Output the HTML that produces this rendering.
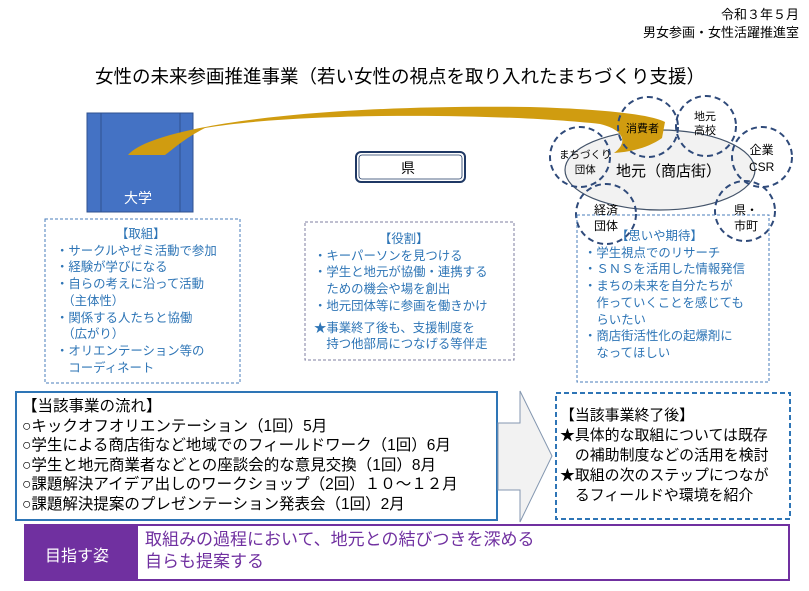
<!DOCTYPE html>
<html><head><meta charset="utf-8"><style>
body{margin:0;width:809px;height:591px;background:#fff;position:relative;overflow:hidden;font-family:"Liberation Sans","Noto Sans CJK JP",sans-serif;}
.a{position:absolute;white-space:nowrap;}
.blue{color:#2e75b6;}
</style></head><body>
<svg class="a" style="left:0;top:0" width="809" height="591">
<rect x="87" y="113" width="106" height="99" fill="#4472c4" stroke="#2f528f"/>
<line x1="101" y1="113" x2="101" y2="212" stroke="#2f528f"/>
<line x1="180" y1="113" x2="180" y2="212" stroke="#2f528f"/>
<ellipse cx="660" cy="170" rx="95" ry="40" fill="#f2f2f2" stroke="#44546a" stroke-width="1.2"/>
<path d="M128,155 C150,128 300,104 530,107 C600,109 650,114 665,122 L662,138 C648,148 630,152 614,153 C628,143 625,130 600,124 C500,113 300,112 205,128 C185,138 172,150 165,155 Z" fill="#d09c10"/>
<g fill="none" stroke="#2f4a7a" stroke-width="2" stroke-dasharray="6,4">
<circle cx="648" cy="127" r="30"/><circle cx="706" cy="126" r="30"/>
<circle cx="580" cy="157" r="30"/><circle cx="762" cy="157" r="30"/>
<circle cx="606" cy="214" r="30"/><circle cx="745" cy="211" r="30"/>
</g>
<rect x="356" y="152" width="109" height="30" rx="5" fill="#fff" stroke="#1f3864" stroke-width="2"/>
<rect x="359" y="155" width="103" height="24" rx="3" fill="none" stroke="#1f3864" stroke-width="0.8"/>
<g fill="none" stroke="#4a7ebb" stroke-width="1" stroke-dasharray="3,2">
<rect x="45" y="219" width="195" height="164"/>
<rect x="305" y="222" width="209" height="138" stroke="#7f7fa0"/>
<rect x="577" y="215" width="192" height="167"/>
</g>
<rect x="16" y="392" width="481" height="128" fill="#fff" stroke="#2e75b6" stroke-width="2"/>
<path d="M498,423 L520,423 L520,391 L552,456 L520,522 L520,490 L498,490 Z" fill="#f2f2f2" stroke="#8497b0" stroke-width="1"/>
<rect x="556" y="393" width="234" height="126" fill="#fff" stroke="#2e75b6" stroke-width="2" stroke-dasharray="5,3"/>
<rect x="25" y="525" width="764" height="55" fill="#fff" stroke="#7030a0" stroke-width="2"/>
<rect x="25" y="525" width="113" height="55" fill="#7030a0"/>
</svg>
<div class="a" style="right:10px;top:6px;font-size:13px;text-align:right;line-height:18px;">令和３年５月<br>男女参画・女性活躍推進室</div>
<div class="a" style="left:95px;top:63px;font-size:18.5px;">女性の未来参画推進事業（若い女性の視点を取り入れたまちづくり支援）</div>
<div class="a" style="left:124px;top:188px;font-size:14px;color:#fff;">大学</div>
<div class="a" style="left:401px;top:158px;font-size:14px;">県</div>
<div class="a" style="left:616px;top:160px;font-size:15px;">地元（商店街）</div>
<div class="a" style="left:626px;top:120px;font-size:11px;">消費者</div>
<div class="a" style="left:694px;top:110px;font-size:11px;line-height:14px;text-align:center;">地元<br>高校</div>
<div class="a" style="left:559px;top:148px;font-size:10.5px;line-height:15px;text-align:center;">まちづくり<br>団体</div>
<div class="a" style="left:749px;top:142px;font-size:12px;line-height:17px;text-align:center;">企業<br>CSR</div>
<div class="a" style="left:594px;top:202px;font-size:12px;line-height:16px;text-align:center;">経済<br>団体</div>
<div class="a" style="left:734px;top:202px;font-size:12px;line-height:16px;text-align:center;">県・<br>市町</div>
<div class="a blue" style="left:56px;top:226px;font-size:12.4px;line-height:16.7px;"><div style="padding-left:60px">【取組】</div>・サークルやゼミ活動で参加<br>・経験が学びになる<br>・自らの考えに沿って活動<br>　（主体性）<br>・関係する人たちと協働<br>　（広がり）<br>・オリエンテーション等の<br>　コーディネート</div>
<div class="a blue" style="left:314px;top:231px;font-size:12.4px;line-height:16.7px;"><div style="padding-left:65px">【役割】</div>・キーパーソンを見つける<br>・学生と地元が協働・連携する<br>　ための機会や場を創出<br>・地元団体等に参画を働きかけ<br><div style="margin-top:5px">★事業終了後も、支援制度を<br>　持つ他部局につなげる等伴走</div></div>
<div class="a blue" style="left:584px;top:228px;font-size:12.4px;line-height:16.7px;"><div style="padding-left:32px">【思いや期待】</div>・学生視点でのリサーチ<br>・ＳＮＳを活用した情報発信<br>・まちの未来を自分たちが<br>　作っていくことを感じても<br>　らいたい<br>・商店街活性化の起爆剤に<br>　なってほしい</div>
<div class="a" style="left:22px;top:397px;font-size:15.5px;line-height:19.6px;">【当該事業の流れ】<br>○キックオフオリエンテーション（1回）5月<br>○学生による商店街など地域でのフィールドワーク（1回）6月<br>○学生と地元商業者などとの座談会的な意見交換（1回）8月<br>○課題解決アイデア出しのワークショップ（2回）１０～１２月<br>○課題解決提案のプレゼンテーション発表会（1回）2月</div>
<div class="a" style="left:560px;top:406px;font-size:14.9px;line-height:20px;">【当該事業終了後】<br>★具体的な取組については既存<br>　の補助制度などの活用を検討<br>★取組の次のステップにつなが<br>　るフィールドや環境を紹介</div>
<div class="a" style="left:45px;top:542px;font-size:16px;color:#fff;">目指す姿</div>
<div class="a" style="left:145px;top:529px;font-size:17px;line-height:22px;color:#7030a0;">取組みの過程において、地元との結びつきを深める<br>自らも提案する</div>
</body></html>
